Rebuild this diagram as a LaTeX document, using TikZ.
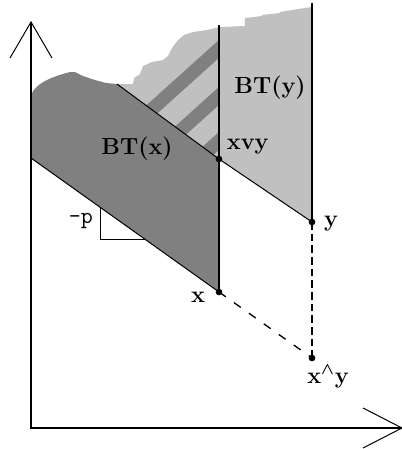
\documentclass[tikz,border=0pt]{standalone}
\usepackage{tikz}
\definecolor{darkfill}{RGB}{128,128,128}
\definecolor{lightfill}{RGB}{192,192,192}
\tikzset{
  dot/.style    = {circle, fill=black, inner sep=0pt, minimum size=4pt},
  lbl/.style    = {font=\fontsize{14}{16}\selectfont\bfseries, inner sep=1pt},
  stripe/.style = {draw=darkfill, line width=8pt},
  edge/.style   = {line width=0.6pt},
  wall/.style   = {line width=1pt},
  axis/.style   = {line width=1.2pt},
}

\begin{document}
\begin{tikzpicture}[x=0.6pt, y=-0.6pt]
  \useasboundingbox (0,0) rectangle (402,449);

  % points
  \coordinate (O) at (31,428);
  \coordinate (ytip) at (31,22);
  \coordinate (xtip) at (402,428);
  \coordinate (lo) at (31,158);
  \coordinate (hi) at (117,84);
  \coordinate (midtop) at (219,25);
  \coordinate (rtop) at (312,3);
  \coordinate (xvy) at (219,159);
  \coordinate (x) at (219,292);
  \coordinate (y) at (312,222);
  \coordinate (xy) at (312,358);

  % BT(y)
  \fill[lightfill] (hi) -- (133,84) -- (134,78) -- (140,74) -- (143,66) -- (152,62)
    -- (163,60) -- (168,56) -- (172,48) -- (178,40) -- (184,35) -- (193,32) -- (207,30)
    -- (220,27) -- (245,26) -- (245,18) -- (262,16) -- (262,15) -- (280,13) -- (280,12)
    -- (298,9) -- (312,7) -- (y) -- (xvy) -- cycle;

  % stripes
  \begin{scope}
    \clip (hi) -- (133,84) -- (143,66) -- (168,56) -- (184,35) -- (219,25) -- (xvy) -- cycle;
    \draw[stripe] (250,21) -- (120,138);
    \draw[stripe] (250,68) -- (120,185);
    \draw[stripe] (250,113) -- (120,230);
  \end{scope}

  % BT(x)
  \fill[darkfill] (lo) -- (31,95) .. controls (36,82) and (55,76) .. (70,72)
    -- (75,72) -- (83,76) -- (95,80) -- (106,83) -- (hi)
    -- (xvy) -- (x) -- cycle;

  % boundaries
  \draw[edge] (lo) -- (x);
  \draw[edge] (hi) -- (xvy) -- (y);
  \draw[wall] (midtop) -- (x);
  \draw[wall] (rtop) -- (y);
  \draw[edge] (101,208) -- (101,239) -- (145,239);
  \draw[line width=0.8pt, dash pattern=on 5pt off 6pt] (x) -- (xy);
  \draw[line width=0.8pt, dash pattern=on 4.5pt off 2.5pt] (y) -- (xy);

  % axes
  \draw[axis] (ytip) -- (O) -- (xtip);
  \draw[edge] (10,58) -- (ytip) -- (52,58);
  \draw[edge] (363,408) -- (xtip) -- (363,448);

  \node[dot] (dxvy) at (xvy) {};
  \node[dot] (dx) at (x) {};
  \node[dot] (dy) at (y) {};
  \node[dot] (dxy) at (xy) {};

  \node[lbl] (btx) at (137,149) {BT(x)};
  \node[lbl] (bty) at (270,88) {BT(y)};
  \node[lbl, anchor=west] (lxvy) at (225,147) {xvy};
  \node[lbl] (lx) at (198,297) {x};
  \node[lbl] (ly) at (331,224) {y};
  \node[lbl] (lxy) at (328,377) {x{\boldmath$^\wedge$}y};
  \node[font=\fontsize{14}{16}\selectfont\ttfamily] (slope) at (81,221) {-p};
\end{tikzpicture}
\end{document}
